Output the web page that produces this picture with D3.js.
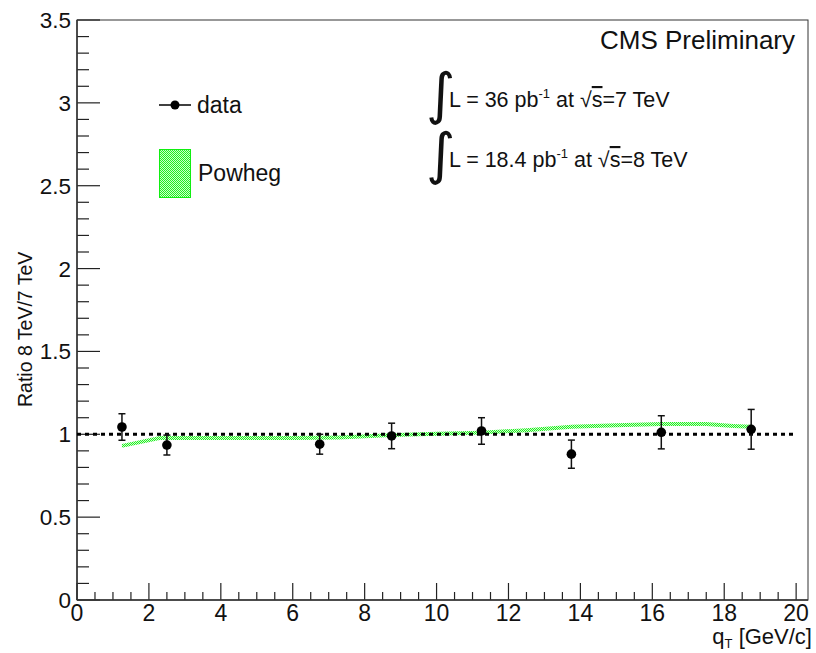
<!DOCTYPE html>
<html><head><meta charset="utf-8">
<script src="https://cdn.jsdelivr.net/npm/d3@7"></script>
<style>body{margin:0;background:#fff}svg{display:block;font-family:"Liberation Sans",Arial,sans-serif}</style>
</head><body><svg id="c" width="816" height="653"></svg>
<script>
// Data
const qT = [1.25, 2.5, 6.75, 8.75, 11.25, 13.75, 16.25, 18.75];
const ratio = [1.044, 0.935, 0.94, 0.99, 1.02, 0.88, 1.012, 1.03];
const ratioErr = [0.08, 0.06, 0.06, 0.077, 0.08, 0.085, 0.1, 0.12];
const powhegX = [1.25, 2.3, 4, 6, 7.3, 8.75, 10, 11.25, 12.5, 13.75, 15, 16.25, 17.5, 18.25, 18.75];
const powhegY = [0.93, 0.977, 0.978, 0.978, 0.98, 0.995, 1.003, 1.01, 1.025, 1.045, 1.055, 1.062, 1.062, 1.05, 1.045];
const powhegHalf = 0.012;
const xTicks = [0, 2, 4, 6, 8, 10, 12, 14, 16, 18, 20];
const yTicks = [0, 0.5, 1, 1.5, 2, 2.5, 3, 3.5];
const yTickLabels = ["0", "0.5", "1", "1.5", "2", "2.5", "3", "3.5"];

const svg = d3.select("#c");
const L = 77, R = 808, T = 20, B = 600;
const x = d3.scaleLinear().domain([0, 20.33]).range([L, R]);
const y = d3.scaleLinear().domain([0, 3.5]).range([B, T]);

// pattern
const defs = svg.append("defs");
const pat = defs.append("pattern").attr("id", "hatch").attr("width", 2).attr("height", 2).attr("patternUnits", "userSpaceOnUse");
pat.append("rect").attr("width", 2).attr("height", 2).attr("fill", "#ccffcc");
pat.append("rect").attr("width", 1).attr("height", 1).attr("fill", "#22ee22");
pat.append("rect").attr("x", 1).attr("y", 1).attr("width", 1).attr("height", 1).attr("fill", "#22ee22");

// frame
svg.append("rect").attr("x", L).attr("y", T).attr("width", R - L).attr("height", B - T)
  .attr("fill", "none").attr("stroke", "#333").attr("stroke-width", 1);

// x axis ticks
const xMinor = d3.range(0, 20.01, 0.5).filter(v => Math.abs(v % 2) > 1e-6);
svg.append("g").selectAll("line").data(xMinor).join("line")
  .attr("x1", d => x(d)).attr("x2", d => x(d)).attr("y1", B).attr("y2", B - 8)
  .attr("stroke", "#222").attr("stroke-width", 1.2);
svg.append("g").selectAll("line").data(xTicks).join("line")
  .attr("x1", d => x(d)).attr("x2", d => x(d)).attr("y1", B).attr("y2", B - 17)
  .attr("stroke", "#222").attr("stroke-width", 1.2);
svg.append("g").selectAll("text").data(xTicks).join("text")
  .attr("x", d => x(d)).attr("y", 621).attr("text-anchor", "middle")
  .attr("font-size", 23).attr("fill", "#111").text(d => d);

// y axis ticks
const yMinor = d3.range(0, 3.501, 0.1).filter(v => Math.abs(Math.round(v * 10) % 5) !== 0);
svg.append("g").selectAll("line").data(yMinor).join("line")
  .attr("x1", L).attr("x2", L + 12).attr("y1", d => y(d)).attr("y2", d => y(d))
  .attr("stroke", "#222").attr("stroke-width", 1.2);
svg.append("g").selectAll("line").data(yTicks).join("line")
  .attr("x1", L).attr("x2", L + 23).attr("y1", d => y(d)).attr("y2", d => y(d))
  .attr("stroke", "#222").attr("stroke-width", 1.2);
svg.append("g").selectAll("text").data(yTicks).join("text")
  .attr("x", 71).attr("y", d => y(d) + 8).attr("text-anchor", "end")
  .attr("font-size", 22.5).attr("fill", "#111").text((d, i) => yTickLabels[i]);
svg.append("line").attr("x1", L).attr("x2", L).attr("y1", T).attr("y2", B).attr("stroke", "#333").attr("stroke-width", 1.5);
svg.append("line").attr("x1", L).attr("x2", R).attr("y1", B).attr("y2", B).attr("stroke", "#333").attr("stroke-width", 1.5);

// axis titles
svg.append("text").attr("transform", "translate(32,407) rotate(-90)")
  .attr("font-size", 19.5).attr("fill", "#111").text("Ratio 8 TeV/7 TeV");
const xt = svg.append("text").attr("x", 812).attr("y", 644).attr("text-anchor", "end")
  .attr("font-size", 22).attr("fill", "#111");
xt.append("tspan").text("q");
xt.append("tspan").attr("font-size", 13).attr("dy", 4).text("T");
xt.append("tspan").attr("dy", -4).text(" [GeV/c]");

// powheg band
const area = d3.area().x((d, i) => x(powhegX[i]))
  .y0((d, i) => y(powhegY[i] - powhegHalf)).y1((d, i) => y(powhegY[i] + powhegHalf));
svg.append("path").datum(powhegX).attr("d", area).attr("fill", "url(#hatch)");

// reference line at 1
svg.append("line").attr("x1", x(0)).attr("x2", x(20)).attr("y1", y(1)).attr("y2", y(1))
  .attr("stroke", "#000").attr("stroke-width", 3).attr("stroke-dasharray", "4,4");

// data points
const g = svg.append("g");
qT.forEach((q, i) => {
  const cx = x(q), lo = y(ratio[i] - ratioErr[i]), hi = y(ratio[i] + ratioErr[i]);
  g.append("line").attr("x1", cx).attr("x2", cx).attr("y1", lo).attr("y2", hi).attr("stroke", "#111").attr("stroke-width", 1.5);
  g.append("line").attr("x1", cx - 3.5).attr("x2", cx + 3.5).attr("y1", lo).attr("y2", lo).attr("stroke", "#111").attr("stroke-width", 1.5);
  g.append("line").attr("x1", cx - 3.5).attr("x2", cx + 3.5).attr("y1", hi).attr("y2", hi).attr("stroke", "#111").attr("stroke-width", 1.5);
  g.append("circle").attr("cx", cx).attr("cy", y(ratio[i])).attr("r", 4.8).attr("fill", "#000");
});

// legend
svg.append("line").attr("x1", 159).attr("x2", 191).attr("y1", 105).attr("y2", 105).attr("stroke", "#000").attr("stroke-width", 1.5);
svg.append("circle").attr("cx", 175).attr("cy", 105).attr("r", 4.5).attr("fill", "#000");
svg.append("text").attr("x", 197).attr("y", 113).attr("font-size", 23).attr("fill", "#111").text("data");
svg.append("rect").attr("x", 159.5).attr("y", 149.5).attr("width", 31).attr("height", 48)
  .attr("fill", "url(#hatch)").attr("stroke", "#11ee11").attr("stroke-width", 1);
svg.append("text").attr("x", 198).attr("y", 181).attr("font-size", 23).attr("fill", "#111").text("Powheg");

// CMS label
svg.append("text").attr("x", 795).attr("y", 49).attr("text-anchor", "end").attr("font-size", 26).attr("fill", "#111").text("CMS Preliminary");

// luminosity annotations
const lumi = [{v: "36", e: "7", yb: 107}, {v: "18.4", e: "8", yb: 167}];
lumi.forEach(d => {
  svg.append("text").attr("x", 426).attr("y", d.yb + 6).attr("font-size", 56).attr("font-family", "DejaVu Sans").attr("fill", "#111").text("\u222B");
  const t = svg.append("text").attr("x", 449).attr("y", d.yb).attr("font-size", 21.5).attr("fill", "#111");
  t.append("tspan").text("L = " + d.v + " pb");
  t.append("tspan").attr("font-size", 13).attr("dy", -9).text("-1");
  t.append("tspan").attr("dy", 9).text(" at ");
  t.append("tspan").text("\u221A");
  t.append("tspan").attr("text-decoration", "overline").text("s");
  t.append("tspan").text("=" + d.e + " TeV");
});
</script></body></html>
